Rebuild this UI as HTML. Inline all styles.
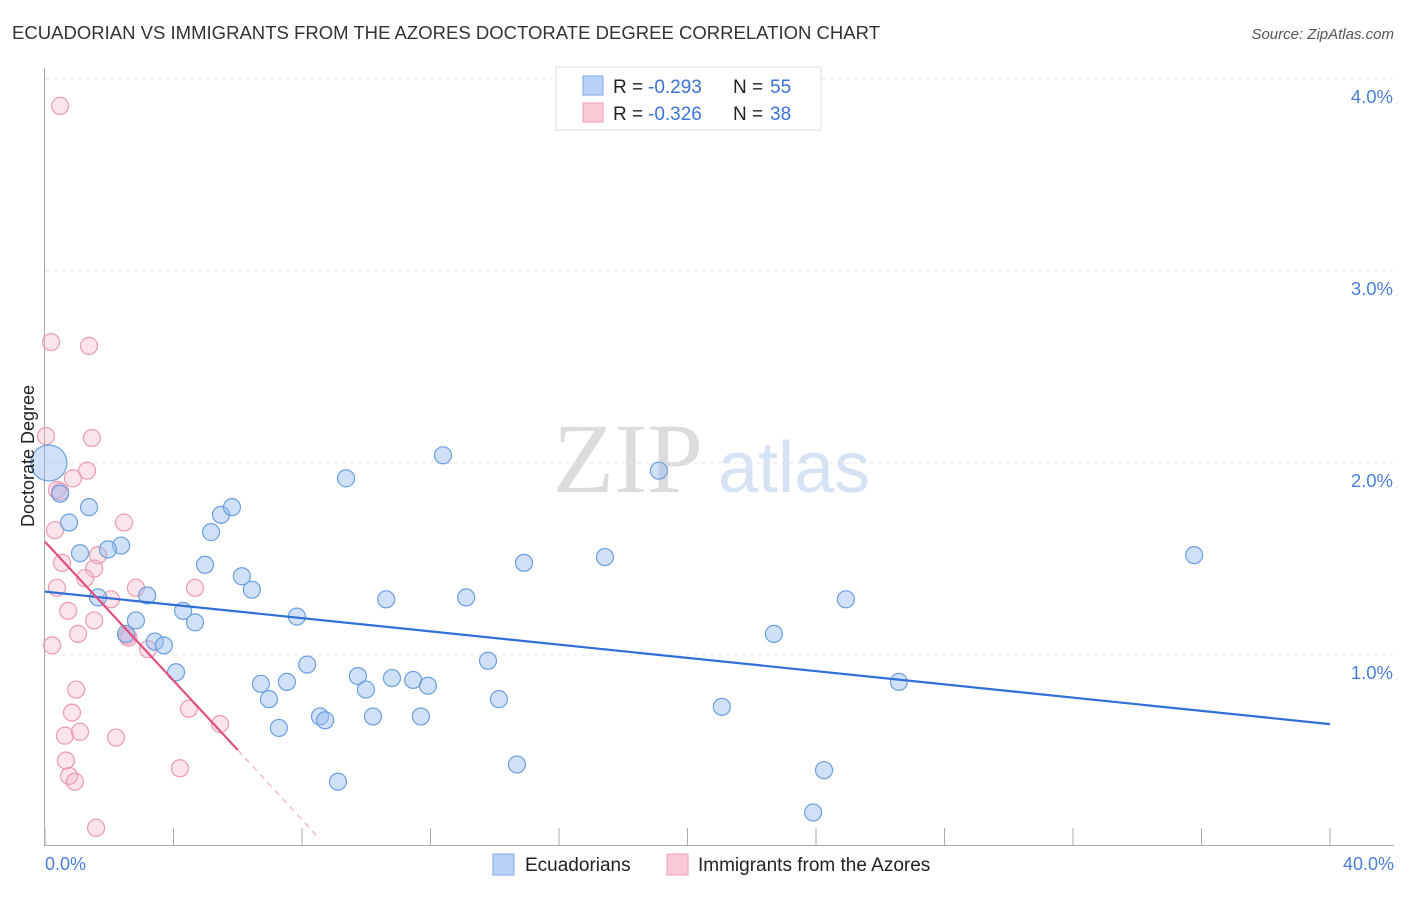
<!DOCTYPE html>
<html><head><meta charset="utf-8"><style>
body{margin:0;background:#fff;font-family:"Liberation Sans",sans-serif;}
svg text{font-family:"Liberation Sans",sans-serif;}
svg text.serif{font-family:"Liberation Serif",serif;}
</style></head><body>
<svg id="chart" width="1406" height="892" xmlns="http://www.w3.org/2000/svg">
<text x="12" y="39" font-size="18.5" fill="#333" textLength="868">ECUADORIAN VS IMMIGRANTS FROM THE AZORES DOCTORATE DEGREE CORRELATION CHART</text>
<text x="1394" y="39" font-size="15" fill="#555" font-style="italic" text-anchor="end">Source: ZipAtlas.com</text>
<g>
<text class="serif" x="553" y="492" font-size="100" fill="#dcdcdc">ZIP</text>
<text x="718" y="492" font-size="72" fill="#d6e3f5">atlas</text>
</g>
<g id="grid"></g>
<g id="axes"></g>
<g id="lines"></g>
<g id="pts"></g>
<text transform="translate(34,456) rotate(-90)" font-size="18" fill="#222" text-anchor="middle">Doctorate Degree</text>
<text x="45" y="870" font-size="18" fill="#4a7fd8">0.0%</text>
<text x="1394" y="870" font-size="18" fill="#4a7fd8" text-anchor="end">40.0%</text>
<g>
<rect x="556" y="67" width="265" height="63" fill="#fff" stroke="#ddd"/>
<rect x="583" y="76" width="20" height="19" fill="#b9d2f5" stroke="#7aa8e6"/>
<rect x="583" y="103" width="20" height="19" fill="#f9c9d6" stroke="#eba0b6"/>
<text x="613" y="93" font-size="19" fill="#222">R =</text>
<text x="648" y="93" font-size="19" fill="#3b73d6">-0.293</text>
<text x="733" y="93" font-size="19" fill="#222">N =</text>
<text x="770" y="93" font-size="19" fill="#3b73d6">55</text>
<text x="613" y="120" font-size="19" fill="#222">R =</text>
<text x="648" y="120" font-size="19" fill="#3b73d6">-0.326</text>
<text x="733" y="120" font-size="19" fill="#222">N =</text>
<text x="770" y="120" font-size="19" fill="#3b73d6">38</text>
</g>
<g>
<rect x="493" y="854" width="21" height="21" fill="#b9d2f5" stroke="#7aa8e6"/>
<text x="525" y="871" font-size="19" fill="#222">Ecuadorians</text>
<rect x="667" y="854" width="21" height="21" fill="#f9c9d6" stroke="#eba0b6"/>
<text x="698" y="871" font-size="19" fill="#222">Immigrants from the Azores</text>
</g>
</svg>
<script>
const yTicks=[1,2,3,4];
const yTickLabels=["1.0%","2.0%","3.0%","4.0%"];
const blueX=[0.06,0.47,1.37,0.75,1.09,2.37,1.96,1.65,3.18,2.52,2.83,3.42,3.70,4.30,4.67,4.08,4.98,5.17,5.48,5.82,6.13,6.44,7.84,6.72,6.97,7.28,7.53,8.16,8.56,8.72,9.12,9.37,9.74,9.99,10.21,10.62,10.80,11.46,11.92,11.70,12.39,13.11,13.79,14.13,14.69,14.91,17.43,19.11,21.07,22.69,24.25,23.91,24.93,26.58,35.77];
const blueY=[2.0,1.84,1.77,1.69,1.53,1.57,1.55,1.30,1.31,1.11,1.18,1.07,1.05,1.23,1.17,0.91,1.47,1.64,1.73,1.77,1.41,1.34,1.20,0.85,0.77,0.62,0.86,0.95,0.68,0.66,0.34,1.92,0.89,0.82,0.68,1.29,0.88,0.87,0.84,0.68,2.04,1.30,0.97,0.77,0.43,1.48,1.51,1.96,0.73,1.11,0.40,0.18,1.29,0.86,1.52];
const pinkX=[0.47,0.19,1.37,0.03,1.46,1.31,0.87,0.37,0.31,2.46,0.53,1.65,1.53,1.25,0.37,2.83,4.67,2.05,0.72,1.53,1.03,2.55,0.22,3.21,0.97,0.84,0.62,1.09,2.21,4.48,5.45,0.65,0.75,0.93,4.20,1.59,0.47,2.60];
const pinkY=[3.86,2.63,2.61,2.14,2.13,1.96,1.92,1.86,1.65,1.69,1.48,1.52,1.45,1.40,1.35,1.35,1.35,1.29,1.23,1.18,1.11,1.10,1.05,1.03,0.82,0.70,0.58,0.60,0.57,0.72,0.64,0.45,0.37,0.34,0.41,0.10,1.85,1.09];
const blueTrend=[[0,1.33],[40,0.64]];
const pinkTrend=[[0,1.59],[6.0,0.505]];
const pinkTrendExt=[[6.0,0.505],[8.56,0.04]];
const NS="http://www.w3.org/2000/svg";
const X=v=>45+v/40*1285, Y=v=>847-v*192;
function mk(t,a,p){const e=document.createElementNS(NS,t);for(const k in a)e.setAttribute(k,a[k]);p.appendChild(e);return e;}
const grid=document.getElementById('grid'),axes=document.getElementById('axes'),lines=document.getElementById('lines'),pts=document.getElementById('pts');
yTicks.forEach((t,i)=>{
 const l=mk('line',{x1:45,x2:1394,y1:Y(t),y2:Y(t),stroke:'#e4e4e4','stroke-dasharray':'4,4'},grid);
 
 
 const tx=mk('text',{x:1393,y:Y(t)+24,'font-size':18.5,fill:'#4a7fd8','text-anchor':'end'},grid);
 tx.textContent=yTickLabels[i];
 
 
});
const ya=mk('line',{x1:44.5,x2:44.5,y1:68,y2:845,stroke:'#aaa'},axes);


const xa=mk('line',{x1:44,x2:1394,y1:845.5,y2:845.5,stroke:'#aaa'},axes);


for(let i=0;i<=10;i++){const t=mk('line',{x1:X(i*4),x2:X(i*4),y1:828,y2:845,stroke:'#aaa'},axes);
 
 }
function pts_(xs,ys,fill,stroke,name){xs.forEach((x,i)=>{
 const r=(i===0&&name==='ecuadorian-point')?18:8.5;
 const c=mk('circle',{cx:X(x)+(r>10?2:0),cy:Y(ys[i]),r:r,fill:fill,stroke:stroke,'stroke-width':1.2},pts);
 
 });}
pts_(pinkX,pinkY,'rgba(246,178,199,0.35)','#eb9ab3','azores-point');
pts_(blueX,blueY,'rgba(150,188,238,0.45)','#6a9fe0','ecuadorian-point');
const bl=mk('line',{x1:X(blueTrend[0][0]),y1:Y(blueTrend[0][1]),x2:X(blueTrend[1][0]),y2:Y(blueTrend[1][1]),stroke:'#2f6fd6','stroke-width':2.2},lines);


const pl=mk('line',{x1:X(pinkTrend[0][0]),y1:Y(pinkTrend[0][1]),x2:X(pinkTrend[1][0]),y2:Y(pinkTrend[1][1]),stroke:'#e0517f','stroke-width':2.2},lines);


const pd=mk('line',{x1:X(pinkTrendExt[0][0]),y1:Y(pinkTrendExt[0][1]),x2:X(pinkTrendExt[1][0]),y2:Y(pinkTrendExt[1][1]),stroke:'#eca0b8','stroke-width':1,'stroke-dasharray':'6,5'},lines);


document.getElementById('chart').appendChild(lines);
</script>
</body></html>
